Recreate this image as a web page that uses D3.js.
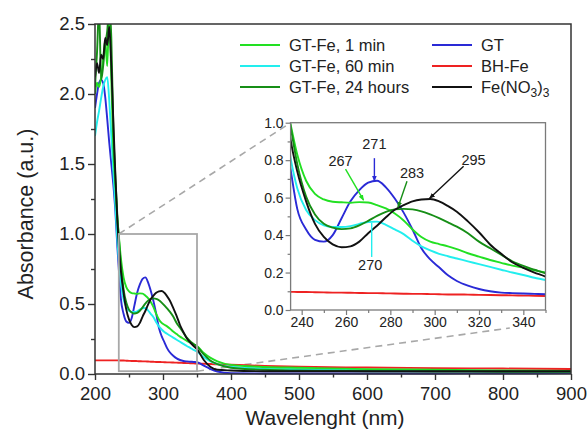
<!DOCTYPE html>
<html><head><meta charset="utf-8">
<script src="https://cdn.jsdelivr.net/npm/d3@7/dist/d3.min.js"></script>
<style>
html,body{margin:0;padding:0;background:#fff;}
svg{display:block;font-family:"Liberation Sans",Arial,Helvetica,sans-serif;}
</style></head>
<body><svg id="c" width="587" height="432"></svg>
<script>
// ---------- data ----------
const wavelength = [200,203,206,209,212,215,218,221,224,227,230,233,235,238,242,246,250,254,258,262,266,270,274,278,282,286,290,294,298,302,306,310,315,320,325,330,335,340,345,350,360,370,380,400,450,500,600,700,800,900];
const gtFe1min   = [2.0,2.08,2.05,2.12,2.25,2.38,2.2,2.6,2.1,1.6,1.35,1.1,0.99,0.83,0.69,0.62,0.59,0.578,0.575,0.573,0.576,0.574,0.56,0.542,0.515,0.478,0.43,0.39,0.365,0.352,0.34,0.325,0.303,0.285,0.267,0.252,0.237,0.225,0.212,0.2,0.15,0.115,0.09,0.065,0.05,0.045,0.035,0.03,0.025,0.022];
const gtFe60min  = [1.70,1.80,1.88,1.97,2.05,2.10,2.12,1.95,1.70,1.45,1.2,0.95,0.81,0.65,0.534,0.48,0.452,0.443,0.443,0.448,0.46,0.47,0.472,0.455,0.43,0.405,0.37,0.34,0.318,0.3,0.287,0.275,0.26,0.245,0.23,0.215,0.2,0.187,0.172,0.16,0.12,0.09,0.07,0.05,0.04,0.034,0.028,0.025,0.022,0.02];
const gtFe24h    = [2.05,2.3,2.62,2.1,2.2,2.35,2.45,2.62,2.4,1.75,1.4,1.12,0.98,0.78,0.605,0.51,0.46,0.44,0.432,0.436,0.452,0.476,0.503,0.524,0.537,0.54,0.537,0.527,0.51,0.49,0.468,0.445,0.41,0.365,0.33,0.295,0.26,0.235,0.215,0.196,0.14,0.095,0.07,0.045,0.03,0.025,0.02,0.018,0.016,0.015];
const gt         = [1.90,2.00,2.08,2.10,2.08,1.98,1.82,1.65,1.50,1.35,1.16,0.90,0.75,0.54,0.43,0.375,0.365,0.40,0.49,0.58,0.64,0.68,0.69,0.655,0.595,0.52,0.43,0.33,0.27,0.228,0.185,0.155,0.13,0.112,0.1,0.093,0.09,0.088,0.086,0.084,0.06,0.035,0.018,0.006,0.004,0.004,0.004,0.004,0.005,0.006];
const bhFe       = [.097,.097,.097,.097,.097,.097,.097,.097,.097,.097,.097,.097,.097,.096,.096,.095,.094,.093,.093,.092,.091,.09,.09,.089,.088,.087,.086,.086,.085,.084,.083,.083,.082,.081,.08,.079,.078,.077,.076,.075,.073,.071,.069,.066,.058,.052,.046,.042,.039,.036];
const feNO3      = [2.12,2.22,2.15,2.28,2.25,2.40,2.35,2.48,2.2,1.8,1.42,1.08,0.91,0.74,0.58,0.46,0.39,0.35,0.335,0.34,0.365,0.41,0.45,0.495,0.535,0.56,0.58,0.59,0.593,0.58,0.555,0.525,0.473,0.415,0.35,0.30,0.255,0.225,0.2,0.178,0.10,0.05,0.03,0.025,0.02,0.02,0.02,0.02,0.02,0.02];

const seriesNames  = ["GT-Fe, 1 min","GT-Fe, 60 min","GT-Fe, 24 hours","GT","BH-Fe","Fe(NO3)3"];
const seriesValues = [gtFe1min, gtFe60min, gtFe24h, gt, bhFe, feNO3];
const seriesColors = ["#22e022","#22eeee","#168e16","#2a2ad6","#ee2222","#111111"];
const drawOrder    = [4,3,1,0,2,5];

const xTicksMain = [200,300,400,500,600,700,800,900];
const yTicksMain = [0.0,0.5,1.0,1.5,2.0,2.5];
const xTicksInset = [240,260,280,300,320,340];
const yTicksInset = [0.0,0.2,0.4,0.6,0.8,1.0];
const zoomRange = {x0:235, x1:350, y0:0.02, y1:1.0};

// peak annotations: label, series index, peak wavelength
const peakLabels = ["271","267","283","295","270"];
const peakSeries = [3,0,2,5,1];
const peakWl     = [271,267,283,295,270];

// ---------- drawing ----------
const svg = d3.select("#c");
const FONT = '"Liberation Sans",Arial,Helvetica,sans-serif';
const M = {l:95, r:571, t:24, b:374};
const x = d3.scaleLinear().domain([200,900]).range([M.l,M.r]);
const y = d3.scaleLinear().domain([0,2.5]).range([M.b,M.t]);

const I = {l:290.6, r:545.5, t:122.7, b:310};
const xi = d3.scaleLinear().domain([235,350]).range([I.l,I.r]);
const yi = d3.scaleLinear().domain([0,1]).range([I.b,I.t]);

const defs = svg.append("defs");
defs.append("clipPath").attr("id","clipMain").append("rect")
  .attr("x",M.l).attr("y",M.t).attr("width",M.r-M.l).attr("height",M.b-M.t+3);
defs.append("clipPath").attr("id","clipInset").append("rect")
  .attr("x",I.l).attr("y",I.t).attr("width",I.r-I.l).attr("height",I.b-I.t);
seriesColors.forEach((c,i)=>{
  defs.append("marker").attr("id","arr"+i).attr("viewBox","0 0 10 10")
    .attr("refX",9).attr("refY",5).attr("markerWidth",6).attr("markerHeight",6)
    .attr("markerUnits","userSpaceOnUse").attr("orient","auto")
    .append("path").attr("d","M0,1 L10,5 L0,9 Z").attr("fill",c);
});

// dashed connectors and zoom box
const gray = "#a8a8a8";
svg.append("line").attr("x1",x(zoomRange.x0)).attr("y1",y(zoomRange.y1))
  .attr("x2",I.l).attr("y2",I.t)
  .attr("stroke",gray).attr("stroke-width",1.6).attr("stroke-dasharray","7,5");
svg.append("line").attr("x1",x(zoomRange.x1)).attr("y1",y(zoomRange.y0))
  .attr("x2",I.l+(I.r-I.l)*0.86).attr("y2",I.b+18)
  .attr("stroke",gray).attr("stroke-width",1.6).attr("stroke-dasharray","7,5");

// main curves
const lineMain = d3.line().x((d,i)=>x(wavelength[i])).y(d=>y(d)).curve(d3.curveMonotoneX);
const gMain = svg.append("g").attr("clip-path","url(#clipMain)");
drawOrder.forEach(k=>{
  gMain.append("path").datum(seriesValues[k]).attr("d",lineMain)
    .attr("fill","none").attr("stroke",seriesColors[k]).attr("stroke-width",1.9);
});

svg.append("rect").attr("x",x(zoomRange.x0)).attr("y",y(zoomRange.y1))
  .attr("width",x(zoomRange.x1)-x(zoomRange.x0)).attr("height",y(zoomRange.y0)-y(zoomRange.y1))
  .attr("fill","none").attr("stroke",gray).attr("stroke-width",1.8);

// main axes
const axCol = "#333";
function styleAxis(g, fs){
  g.select(".domain").remove();
  g.selectAll(".tick line").attr("stroke",axCol).attr("stroke-width",1.4);
  g.selectAll(".tick text").attr("fill","#222").style("font-size",fs+"px").style("font-family",FONT);
}
const gx = svg.append("g").attr("transform",`translate(0,${M.b})`)
  .call(d3.axisBottom(x).tickValues(xTicksMain).tickSize(6).tickPadding(7).tickFormat(d3.format("d")));
styleAxis(gx,18.5);
const gxm = svg.append("g").attr("transform",`translate(0,${M.b})`)
  .call(d3.axisBottom(x).tickValues(xTicksMain.slice(0,-1).map(v=>v+50)).tickSize(3.5).tickFormat(""));
styleAxis(gxm,18.5);
const gy = svg.append("g").attr("transform",`translate(${M.l},0)`)
  .call(d3.axisLeft(y).tickValues(yTicksMain).tickSize(7).tickPadding(3).tickFormat(d3.format(".1f")));
styleAxis(gy,18.5);
const gym = svg.append("g").attr("transform",`translate(${M.l},0)`)
  .call(d3.axisLeft(y).tickValues(yTicksMain.slice(0,-1).map(v=>v+0.25)).tickSize(4).tickFormat(""));
styleAxis(gym,18.5);
svg.append("rect").attr("x",M.l).attr("y",M.t).attr("width",M.r-M.l).attr("height",M.b-M.t)
  .attr("fill","none").attr("stroke",axCol).attr("stroke-width",1.5);

// axis titles
svg.append("text").attr("x",(M.l+M.r)/2 - 8).attr("y",425).attr("text-anchor","middle")
  .style("font-size","21px").attr("fill","#222").text("Wavelenght (nm)");
svg.append("text").attr("transform",`translate(33,214) rotate(-90)`)
  .attr("text-anchor","middle").style("font-size","21.5px").attr("fill","#222").text("Absorbance (a.u.)");

// legend
const legCols = [[0,1,2],[3,4,5]];
const legX = [240,432], legY = [45,66,87];
legCols.forEach((col,ci)=>{
  col.forEach((k,ri)=>{
    const g = svg.append("g").attr("transform",`translate(${legX[ci]},${legY[ri]})`);
    g.append("line").attr("x1",0).attr("x2",40).attr("y1",0).attr("y2",0)
      .attr("stroke",seriesColors[k]).attr("stroke-width",2);
    const t = g.append("text").attr("x",49).attr("y",6).style("font-size","16.5px").attr("fill","#222");
    if (seriesNames[k]==="Fe(NO3)3"){
      t.append("tspan").text("Fe(NO");
      t.append("tspan").attr("dy",4).style("font-size","12px").text("3");
      t.append("tspan").attr("dy",-4).text(")");
      t.append("tspan").attr("dy",4).style("font-size","12px").text("3");
    } else t.text(seriesNames[k]);
  });
});

// inset
svg.append("rect").attr("x",I.l).attr("y",I.t).attr("width",I.r-I.l).attr("height",I.b-I.t)
  .attr("fill","#fff");
const lineInset = d3.line().x((d,i)=>xi(wavelength[i])).y(d=>yi(d)).curve(d3.curveMonotoneX);
const gIn = svg.append("g").attr("clip-path","url(#clipInset)");
drawOrder.forEach(k=>{
  gIn.append("path").datum(seriesValues[k]).attr("d",lineInset)
    .attr("fill","none").attr("stroke",seriesColors[k]).attr("stroke-width",1.9);
});
const inCol = "#7a7a7a";
function styleInset(g){
  g.select(".domain").remove();
  g.selectAll(".tick line").attr("stroke",inCol).attr("stroke-width",1.2);
  g.selectAll(".tick text").attr("fill","#222").style("font-size","14px").style("font-family",FONT);
}
const gix = svg.append("g").attr("transform",`translate(0,${I.b})`)
  .call(d3.axisBottom(xi).tickValues(xTicksInset).tickSize(5).tickPadding(2).tickFormat(d3.format("d")));
styleInset(gix);
const gixm = svg.append("g").attr("transform",`translate(0,${I.b})`)
  .call(d3.axisBottom(xi).tickValues(xTicksInset.map(v=>v+10)).tickSize(3).tickFormat(""));
styleInset(gixm);
const giy = svg.append("g").attr("transform",`translate(${I.l},0)`)
  .call(d3.axisLeft(yi).tickValues(yTicksInset).tickSize(5).tickPadding(2).tickFormat(d3.format(".1f")));
styleInset(giy);
const giym = svg.append("g").attr("transform",`translate(${I.l},0)`)
  .call(d3.axisLeft(yi).tickValues(yTicksInset.slice(0,-1).map(v=>v+0.1)).tickSize(3).tickFormat(""));
styleInset(giym);
svg.append("rect").attr("x",I.l).attr("y",I.t).attr("width",I.r-I.l).attr("height",I.b-I.t)
  .attr("fill","none").attr("stroke",inCol).attr("stroke-width",1.3);

// peak annotations (offsets in px relative to peak point)
const annLabelOff  = [[4,-33],[-21,-36],[15,-31],[50,-34],[2,48]];
const annLineStart = [[4,-24],[-16,-33],[10,-28],[40,-33],[3.5,35]];
const annLineEnd   = [[4,-1],[2,-2],[1,-2],[6,-1],[3.5,1]];
peakLabels.forEach((lab,i)=>{
  const k = peakSeries[i];
  const idx = d3.bisectLeft(wavelength, peakWl[i]);
  const t = (peakWl[i]-wavelength[idx-1])/(wavelength[idx]-wavelength[idx-1]);
  const v = seriesValues[k][idx-1]*(1-t)+seriesValues[k][idx]*t;
  const px = xi(peakWl[i]), py = yi(v);
  svg.append("line").attr("x1",px+annLineStart[i][0]).attr("y1",py+annLineStart[i][1])
    .attr("x2",px+annLineEnd[i][0]).attr("y2",py+annLineEnd[i][1])
    .attr("stroke",seriesColors[k]).attr("stroke-width",1.4)
    .attr("marker-end", i===4 ? null : `url(#arr${k})`);
  svg.append("text").attr("x",px+annLabelOff[i][0]).attr("y",py+annLabelOff[i][1])
    .attr("text-anchor","middle").style("font-size","14.5px").attr("fill","#222").text(lab);
});
</script></body></html>
